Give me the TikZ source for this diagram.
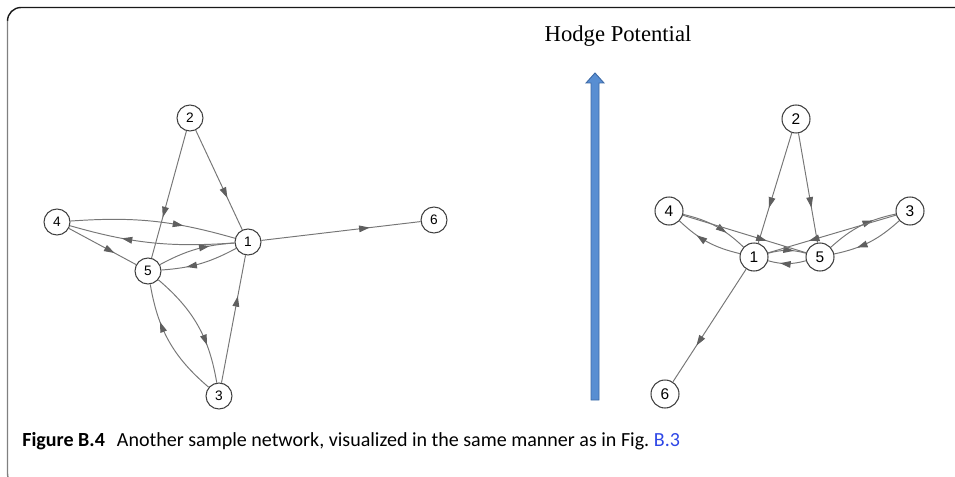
\documentclass[tikz,border=0pt]{standalone}
\usepackage{fontspec}
\setmainfont{Liberation Serif}
\newfontfamily\vertexfont{Liberation Sans}
\newfontfamily\captionfont{Carlito}
\usetikzlibrary{arrows.meta,decorations.markings}
\definecolor{edgegray}{RGB}{118,118,118}
\definecolor{tipgray}{RGB}{95,95,95}
\definecolor{hodgeblue}{RGB}{88,142,210}
\definecolor{hodgeedge}{RGB}{60,105,165}
\definecolor{linkblue}{RGB}{45,70,230}
\tikzset{
  vertex/.style={circle, draw=black!75, fill=white, line width=0.6pt, inner sep=0pt, minimum size=0.52cm, font=\vertexfont\fontsize{7.8}{9}\selectfont},
  bigvertex/.style={vertex, minimum size=0.56cm, font=\vertexfont\fontsize{8.8}{10}\selectfont},
  link/.style={draw=edgegray, line width=0.55pt, postaction={decorate},
    decoration={markings, mark=at position 0.68 with {\arrow[tipgray]{Triangle[length=6pt,width=3.8pt]}}}},
  frameline/.style={line width=0.8pt, line cap=butt, rounded corners=0.27cm},
}
\begin{document}
\begin{tikzpicture}[x=0.02cm, y=-0.02cm]
\useasboundingbox (0,0) rectangle (955,476);
% frame
\draw[frameline, black!90] (955,7.5) -- (7.5,7.5) -- (7.5,21);
\draw[frameline, black!50] (7.5,21) -- (7.5,487) -- (40,487);
% left network
\node[vertex] (l2) at (190,118) {2};
\node[vertex] (l4) at (57,222) {4};
\node[vertex] (l1) at (248,242) {1};
\node[vertex] (l5) at (148,271) {5};
\node[vertex] (l6) at (434,220) {6};
\node[vertex] (l3) at (219,396) {3};
\draw[link] (l2) -- (l1);
\draw[link] (l2) -- (l5);
\draw[link] (l4) to[bend left=10] (l1);
\draw[link] (l1) to[bend left=10] (l4);
\draw[link] (l4) -- (l5);
\draw[link] (l5) to[bend left=12] (l1);
\draw[link] (l1) to[bend left=12] (l5);
\draw[link] (l1) -- (l6);
\draw[link] (l5) to[bend left=20] (l3);
\draw[link] (l3) to[bend left=20] (l5);
\draw[link] (l3) -- (l1);
% potential arrow
\filldraw[fill=hodgeblue, draw=hodgeedge, line width=0.5pt] (591,400) -- (591,83) -- (586,83) -- (595,73) -- (604,83) -- (599,83) -- (599,400) -- cycle;
\node[anchor=base, inner sep=0pt, font=\fontsize{12.9}{15}\selectfont] (hodge) at (618,42) {Hodge Potential};
% right network
\node[bigvertex] (r2) at (796,119) {2};
\node[bigvertex] (r4) at (669,211) {4};
\node[bigvertex] (r3) at (910,211) {3};
\node[bigvertex] (r1) at (754,257) {1};
\node[bigvertex] (r5) at (820,257) {5};
\node[bigvertex] (r6) at (665,394) {6};
\draw[link] (r2) -- (r1);
\draw[link] (r2) -- (r5);
\draw[link] (r4) to[bend left=15] (r1);
\draw[link] (r1) to[bend left=15] (r4);
\draw[link] (r4) -- (r5);
\draw[link] (r1) to[bend left=15] (r5);
\draw[link] (r5) to[bend left=15] (r1);
\draw[link] (r5) to[bend left=15] (r3);
\draw[link] (r3) to[bend left=15] (r5);
\draw[link] (r3) -- (r1);
\draw[link] (r1) -- (r6);
% caption
\node[anchor=base west, inner sep=0pt, font=\captionfont\fontsize{11.4}{13}\selectfont] (caption) at (22,446) {\textbf{Figure B.4}\hspace{0.6em}Another sample network, visualized in the same manner as in Fig.~\textcolor{linkblue}{B.3}};
\end{tikzpicture}
\end{document}
